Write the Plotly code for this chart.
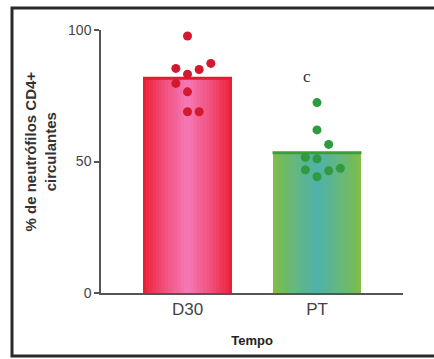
import plotly.graph_objects as go

# ---- data ----
categories = ["D30", "PT"]
bar_means = [81.7, 53.3]
d30_values = [97.7, 85.4, 85.0, 87.3, 83.2, 79.7, 76.5, 68.9, 68.9]
d30_jitter = [0.0, -0.09, 0.09, 0.18, 0.0, -0.09, 0.0, 0.0, 0.09]
pt_values = [72.4, 62.0, 56.5, 51.6, 51.0, 46.8, 44.2, 46.5, 47.4]
pt_jitter = [0.0, 0.0, 0.09, -0.09, 0.0, -0.09, 0.0, 0.09, 0.18]
y_ticks = [0, 50, 100]

bar_width = 0.687
xpos = list(range(len(categories)))

def lerp(c1, c2, t):
    return "rgb(%d,%d,%d)" % tuple(round(a + (b - a) * t) for a, b in zip(c1, c2))

edge_cols = [(236, 30, 52), (128, 190, 70)]
center_cols = [(244, 118, 178), (80, 178, 168)]

fig = go.Figure()
steps = 14
for i in range(steps):
    t = i / (steps - 1)
    w = bar_width * (1 - 0.93 * t)
    fig.add_trace(go.Bar(
        x=xpos, y=bar_means, width=w,
        marker=dict(color=[lerp(edge_cols[k], center_cols[k], t ** 0.8) for k in range(2)],
                    line=dict(width=0)),
        showlegend=False, hoverinfo="skip"))

top_cols = ["#e61a30", "#3f9c3c"]
for k in range(2):
    fig.add_trace(go.Scatter(
        x=[xpos[k] - bar_width / 2, xpos[k] + bar_width / 2],
        y=[bar_means[k], bar_means[k]], mode="lines",
        line=dict(color=top_cols[k], width=3), showlegend=False, hoverinfo="skip"))

fig.add_trace(go.Scatter(
    x=[xpos[0] + j for j in d30_jitter], y=d30_values, mode="markers",
    marker=dict(color="#d2192f", size=9), showlegend=False, cliponaxis=False))
fig.add_trace(go.Scatter(
    x=[xpos[1] + j for j in pt_jitter], y=pt_values, mode="markers",
    marker=dict(color="#2f9a3f", size=9), showlegend=False, cliponaxis=False))

font_family = "Arial, Liberation Sans, sans-serif"

fig.update_layout(
    width=434, height=359,
    margin=dict(l=101, r=31, t=30, b=66),
    paper_bgcolor="white", plot_bgcolor="white",
    barmode="overlay", bargap=0,
    font=dict(family=font_family, color="#333"),
    xaxis=dict(range=[-0.668, 1.664], tickvals=xpos, ticktext=categories,
               showgrid=False, zeroline=False, showline=True, linecolor="#555",
               linewidth=1.5, ticks="", tickfont=dict(size=17, color="#444"),
               title=dict(text="<b>Tempo</b>", font=dict(size=13, color="#222"),
                          standoff=18)),
    yaxis=dict(range=[0, 100], tickvals=y_ticks, showgrid=False, zeroline=False,
               showline=True, linecolor="#555", linewidth=1.5, ticks="outside",
               ticklen=5, tickcolor="#555", tickwidth=1.5,
               tickfont=dict(size=14, color="#444")),
    annotations=[
        dict(x=0.92, y=82.5, xref="x", yref="y", text="c", showarrow=False,
             font=dict(family="Liberation Serif, serif", size=17, color="#333")),
        dict(x=-0.2003, y=0.536, xref="paper", yref="paper", textangle=-90,
             xanchor="center", yanchor="middle",
             text="<b>% de neutrófilos CD4+<br>circulantes</b>", showarrow=False,
             font=dict(size=15, color="#333")),
    ],
    shapes=[dict(type="rect", xref="paper", yref="paper",
                 x0=-0.2947, x1=1.13, y0=-0.2395, y1=1.0837,
                 line=dict(color="#2a2a2a", width=3))],
)

fig.write_html("out.html", config={"displayModeBar": False},
               post_script="document.body.style.margin='0';")
